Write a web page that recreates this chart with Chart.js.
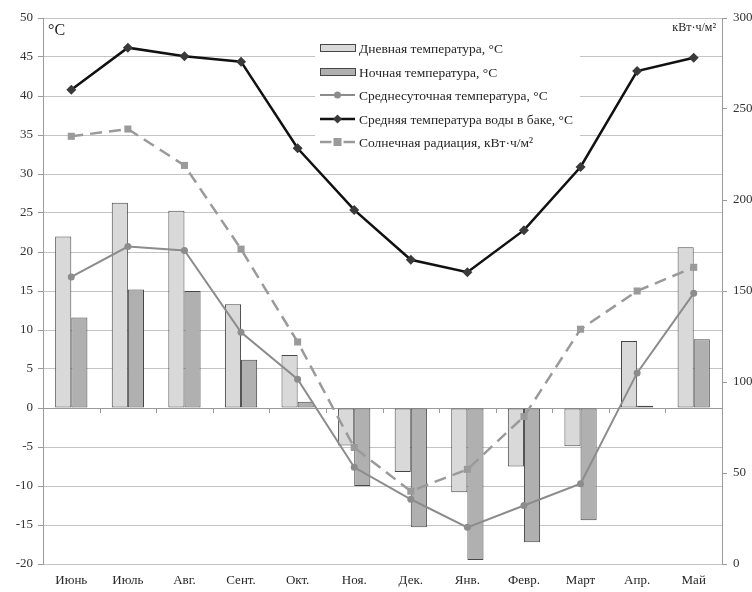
<!DOCTYPE html>
<html>
<head>
<meta charset="utf-8">
<script src="https://cdn.jsdelivr.net/npm/chart.js@4"></script>
<style>
  html, body { margin: 0; padding: 0; background: #fff; }
  #wrap { width: 752px; height: 592px; }
</style>
</head>
<body>
<div id="wrap"><canvas id="c" width="752" height="592"></canvas></div>
<script>
// Months (June to May)
const months = ['Июнь','Июль','Авг.','Сент.','Окт.','Ноя.','Дек.','Янв.','Февр.','Март','Апр.','Май'];
// Temperatures, °C
const dayTemp   = [22.0, 26.3, 25.3, 13.3, 6.8, -4.8, -8.2, -10.8, -7.5, -4.9, 8.6, 20.6];
const nightTemp = [11.6, 15.2, 15.0, 6.2, 0.8, -10.0, -15.3, -19.5, -17.2, -14.4, 0.3, 8.8];
const avgTemp   = [16.8, 20.7, 20.2, 9.7, 3.7, -7.6, -11.7, -15.3, -12.5, -9.7, 4.5, 14.7];
const tankTemp  = [40.8, 46.2, 45.1, 44.4, 33.3, 25.4, 19.0, 17.4, 22.8, 30.9, 43.2, 44.9];
// Solar radiation, kWh/m²
const solarRad  = [235, 239, 219, 173, 122, 64, 40, 52, 81, 129, 150, 163];

const seriesNames = [
  'Дневная температура, °C',
  'Ночная температура, °C',
  'Среднесуточная температура, °C',
  'Средняя температура воды в баке, °C',
  'Солнечная радиация, кВт·ч/м²'
];

const SERIF = '"Liberation Serif", "DejaVu Serif", serif';
const DAY_FILL = '#d9d9d9', NIGHT_FILL = '#b0b0b0', BAR_EDGE = '#474747';
const AVG_COL = '#8c8c8c', TANK_COL = '#111111', TANK_PT = '#3a3a3a', SOLAR_COL = '#9a9a9a';

// Legend box, axis-unit captions and zero-line tick marks
const decorations = {
  id: 'decorations',
  afterDatasetsDraw(chart) {
    const ctx = chart.ctx;
    const y = chart.scales.y;
    const area = chart.chartArea;
    ctx.save();

    // small tick marks between categories on the zero line
    const y0 = y.getPixelForValue(0);
    ctx.strokeStyle = '#9a9a9a';
    ctx.lineWidth = 1;
    const step = (area.right - area.left) / months.length;
    for (let i = 1; i < months.length; i++) {
      const px = Math.round(area.left + i * step) + 0.5;
      ctx.beginPath(); ctx.moveTo(px, y0); ctx.lineTo(px, y0 + 5); ctx.stroke();
    }

    // unit captions
    ctx.fillStyle = '#222';
    ctx.font = '16px ' + SERIF;
    ctx.textBaseline = 'middle';
    ctx.textAlign = 'left';
    ctx.fillText('°C', area.left + 5, 31);
    ctx.font = '12px ' + SERIF;
    ctx.textAlign = 'right';
    ctx.fillText('кВт·ч/м²', area.right - 6, 28);

    // legend
    const lx = 315, ly = 36, lw = 265, lh = 116;
    ctx.fillStyle = '#fff';
    ctx.fillRect(lx, ly, lw, lh);
    const rows = [48, 72, 95, 119, 142];
    const sx0 = 320, sx1 = 355, sc = (sx0 + sx1) / 2;
    // day / night bars
    [[DAY_FILL, rows[0]], [NIGHT_FILL, rows[1]]].forEach(([fill, ry]) => {
      ctx.fillStyle = fill;
      ctx.fillRect(sx0 + 0.5, ry - 3.5, sx1 - sx0, 7);
      ctx.strokeStyle = BAR_EDGE; ctx.lineWidth = 1;
      ctx.strokeRect(sx0 + 0.5, ry - 3.5, sx1 - sx0, 7);
    });
    // average temperature line
    ctx.strokeStyle = AVG_COL; ctx.lineWidth = 2;
    ctx.beginPath(); ctx.moveTo(sx0, rows[2]); ctx.lineTo(sx1, rows[2]); ctx.stroke();
    ctx.fillStyle = AVG_COL;
    ctx.beginPath(); ctx.arc(sc, rows[2], 3.5, 0, Math.PI * 2); ctx.fill();
    // tank water line
    ctx.strokeStyle = TANK_COL; ctx.lineWidth = 2.5;
    ctx.beginPath(); ctx.moveTo(sx0, rows[3]); ctx.lineTo(sx1, rows[3]); ctx.stroke();
    ctx.fillStyle = TANK_PT;
    ctx.beginPath();
    ctx.moveTo(sc, rows[3] - 4.5); ctx.lineTo(sc + 4.5, rows[3]);
    ctx.lineTo(sc, rows[3] + 4.5); ctx.lineTo(sc - 4.5, rows[3]); ctx.closePath(); ctx.fill();
    // solar radiation dashed line
    ctx.strokeStyle = SOLAR_COL; ctx.lineWidth = 2.5;
    ctx.beginPath(); ctx.moveTo(sx0, rows[4]); ctx.lineTo(sc - 6, rows[4]); ctx.stroke();
    ctx.beginPath(); ctx.moveTo(sc + 6, rows[4]); ctx.lineTo(sx1, rows[4]); ctx.stroke();
    ctx.fillStyle = SOLAR_COL;
    ctx.fillRect(sc - 4, rows[4] - 4, 8, 8);

    ctx.fillStyle = '#262626';
    ctx.font = '13.5px ' + SERIF;
    ctx.textAlign = 'left';
    ctx.textBaseline = 'middle';
    seriesNames.forEach((t, i) => ctx.fillText(t, 359, rows[i] + 1));
    ctx.restore();
  }
};

const tickFont = { family: SERIF, size: 13 };

new Chart(document.getElementById('c'), {
  type: 'bar',
  data: {
    labels: months,
    datasets: [
      {
        type: 'line', label: seriesNames[3], data: tankTemp, yAxisID: 'y', order: 1,
        borderColor: TANK_COL, borderWidth: 2.5, backgroundColor: TANK_PT,
        pointStyle: 'rectRot', pointRadius: 5, pointBorderWidth: 0, tension: 0
      },
      {
        type: 'line', label: seriesNames[4], data: solarRad, yAxisID: 'y2', order: 2,
        borderColor: SOLAR_COL, borderWidth: 2.5, borderDash: [12, 7], backgroundColor: SOLAR_COL,
        pointStyle: 'rect', pointRadius: 5, pointBorderWidth: 0, tension: 0
      },
      {
        type: 'line', label: seriesNames[2], data: avgTemp, yAxisID: 'y', order: 3,
        borderColor: AVG_COL, borderWidth: 2, backgroundColor: AVG_COL,
        pointStyle: 'circle', pointRadius: 3.5, pointBorderWidth: 0, tension: 0
      },
      {
        label: seriesNames[0], data: dayTemp, yAxisID: 'y', order: 10,
        backgroundColor: DAY_FILL, borderColor: BAR_EDGE, borderWidth: 1, borderSkipped: false,
        barPercentage: 1, categoryPercentage: 0.57
      },
      {
        label: seriesNames[1], data: nightTemp, yAxisID: 'y', order: 10,
        backgroundColor: NIGHT_FILL, borderColor: BAR_EDGE, borderWidth: 1, borderSkipped: false,
        barPercentage: 1, categoryPercentage: 0.57
      }
    ]
  },
  options: {
    responsive: false,
    animation: false,
    events: [],
    layout: { padding: { top: 18, left: 0, right: 0, bottom: 0 } },
    plugins: { legend: { display: false }, tooltip: { enabled: false } },
    scales: {
      x: {
        grid: { display: false, drawTicks: false },
        border: { display: false },
        ticks: { font: tickFont, color: '#262626', padding: 9, maxRotation: 0 },
        afterFit(s) { s.height = 28; }
      },
      y: {
        position: 'left',
        min: -20, max: 50,
        ticks: { stepSize: 5, font: tickFont, color: '#333', padding: 5 },
        grid: {
          color: (c) => c.tick && c.tick.value === 0 ? '#9a9a9a' : '#c4c4c4',
          tickColor: '#9a9a9a', tickLength: 5, lineWidth: 1
        },
        border: { display: true, color: '#9a9a9a' },
        afterFit(s) { s.width = 43; }
      },
      y2: {
        position: 'right',
        min: 0, max: 300,
        ticks: { stepSize: 50, font: tickFont, color: '#333', padding: 6 },
        grid: { drawOnChartArea: false, tickColor: '#9a9a9a', tickLength: 5 },
        border: { display: true, color: '#9a9a9a' },
        afterFit(s) { s.width = 30; }
      }
    }
  },
  plugins: [decorations]
});
</script>
</body>
</html>
